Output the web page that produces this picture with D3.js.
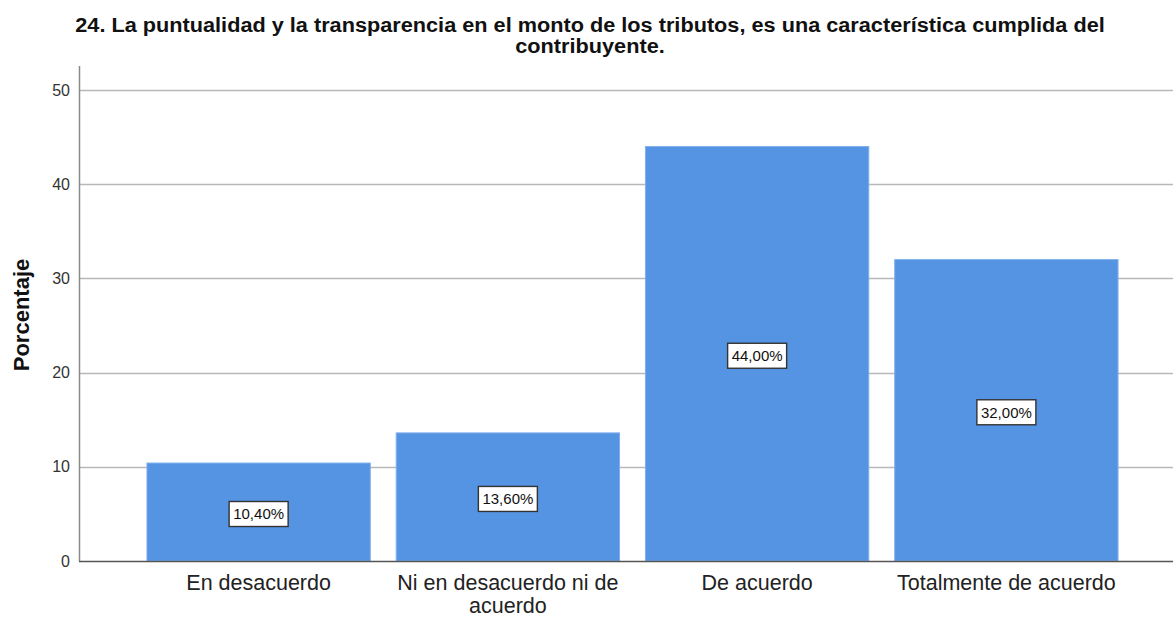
<!DOCTYPE html>
<html>
<head>
<meta charset="utf-8">
<style>
body { margin: 0; background: #fff; }
svg { display: block; font-family: "Liberation Sans", Arial, sans-serif; }
.grid line { stroke: #b8b8b8; stroke-width: 1.3; }
.ytick text { font-size: 16px; fill: #333; }
.xlab { font-size: 21.5px; fill: #222; }
.vlabel rect { fill: #fff; stroke: #333; stroke-width: 1.4; }
.vlabel text { font-size: 15px; fill: #111; text-anchor: middle; }
</style>
</head>
<body>
<svg width="1173" height="617"></svg>
<script src="https://d3js.org/d3.v7.min.js"></script>
<script>

var categories = ["En desacuerdo", "Ni en desacuerdo ni de acuerdo", "De acuerdo", "Totalmente de acuerdo"];
var catLines = [["En desacuerdo"], ["Ni en desacuerdo ni de", "acuerdo"], ["De acuerdo"], ["Totalmente de acuerdo"]];
var percent = [10.4, 13.6, 44.0, 32.0];
var yTicks = [0, 10, 20, 30, 40, 50];
var titleLines = ["24. La puntualidad y la transparencia en el monto de los tributos, es una característica cumplida del", "contribuyente."];

var svg = d3.select("svg"),
    width = +svg.attr("width"),
    height = +svg.attr("height");

var axisX = 79, plotTop = 66, plotBottom = 561;

var y = d3.scaleLinear().domain([0, 50]).range([plotBottom, 90]);

var x = d3.scaleBand()
    .domain(categories)
    .range([134, 1131])
    .paddingInner(0.104)
    .paddingOuter(0.052);

// title (the original is a little wider than the font, so stretch it)
var title = svg.append("g")
    .attr("transform", "translate(590,0) scale(1.085,1)")
    .style("font-size", "20px").style("font-weight", "bold").style("fill", "#111");
title.selectAll("text")
    .data(titleLines)
  .enter().append("text")
    .attr("x", 0)
    .attr("y", function(d, i) { return 32 + i * 21; })
    .attr("text-anchor", "middle")
    .text(function(d) { return d; });

// gridlines
svg.append("g").attr("class", "grid")
  .selectAll("line")
    .data(yTicks.filter(function(d) { return d > 0; }))
  .enter().append("line")
    .attr("x1", axisX).attr("x2", width)
    .attr("y1", function(d) { return Math.round(y(d)) + 0.5; })
    .attr("y2", function(d) { return Math.round(y(d)) + 0.5; });

// y tick labels
svg.append("g").attr("class", "ytick")
  .selectAll("text")
    .data(yTicks)
  .enter().append("text")
    .attr("x", 70)
    .attr("y", function(d) { return y(d); })
    .attr("dy", "0.35em")
    .attr("text-anchor", "end")
    .text(function(d) { return d; });

// y axis title
svg.append("text")
    .attr("transform", "translate(29," + 315 + ") rotate(-90)")
    .attr("text-anchor", "middle")
    .style("font-size", "22px").style("font-weight", "bold").style("fill", "#111")
    .text("Porcentaje");

// bars
svg.append("g")
  .selectAll("rect")
    .data(percent)
  .enter().append("rect")
    .attr("x", function(d, i) { return x(categories[i]); })
    .attr("y", function(d) { return y(d); })
    .attr("width", x.bandwidth())
    .attr("height", function(d) { return plotBottom - y(d); })
    .attr("fill", "#5594e3")
    .attr("stroke", "#7fb0ec")
    .attr("stroke-width", 1);

// axis lines
svg.append("line")
    .attr("x1", axisX + 0.5).attr("x2", axisX + 0.5)
    .attr("y1", plotTop).attr("y2", plotBottom)
    .attr("stroke", "#8a8a8a").attr("stroke-width", 1.5);
svg.append("line")
    .attr("x1", axisX).attr("x2", width)
    .attr("y1", plotBottom + 0.5).attr("y2", plotBottom + 0.5)
    .attr("stroke", "#555").attr("stroke-width", 1.3);

// value labels
var fmt = function(v) { return v.toFixed(2).replace(".", ",") + "%"; };
var lab = svg.append("g")
  .selectAll(".vlabel")
    .data(percent)
  .enter().append("g")
    .attr("class", "vlabel")
    .attr("transform", function(d, i) {
      return "translate(" + (x(categories[i]) + x.bandwidth() / 2) + "," + (y(d / 2) + 2) + ")";
    });

lab.append("rect")
    .attr("x", -29.5).attr("y", -12.5)
    .attr("width", 59).attr("height", 25);

lab.append("text")
    .attr("dy", "0.36em")
    .text(fmt);

// x category labels
svg.append("g")
  .selectAll("text")
    .data(catLines)
  .enter().append("text")
    .attr("class", "xlab")
    .attr("text-anchor", "middle")
    .attr("y", 590)
    .each(function(lines, i) {
      var cx = x(categories[i]) + x.bandwidth() / 2;
      d3.select(this).selectAll("tspan")
        .data(lines)
        .enter().append("tspan")
          .attr("x", cx)
          .attr("dy", function(d, j) { return j ? 22.5 : 0; })
          .text(function(d) { return d; });
    });

</script>
</body>
</html>
